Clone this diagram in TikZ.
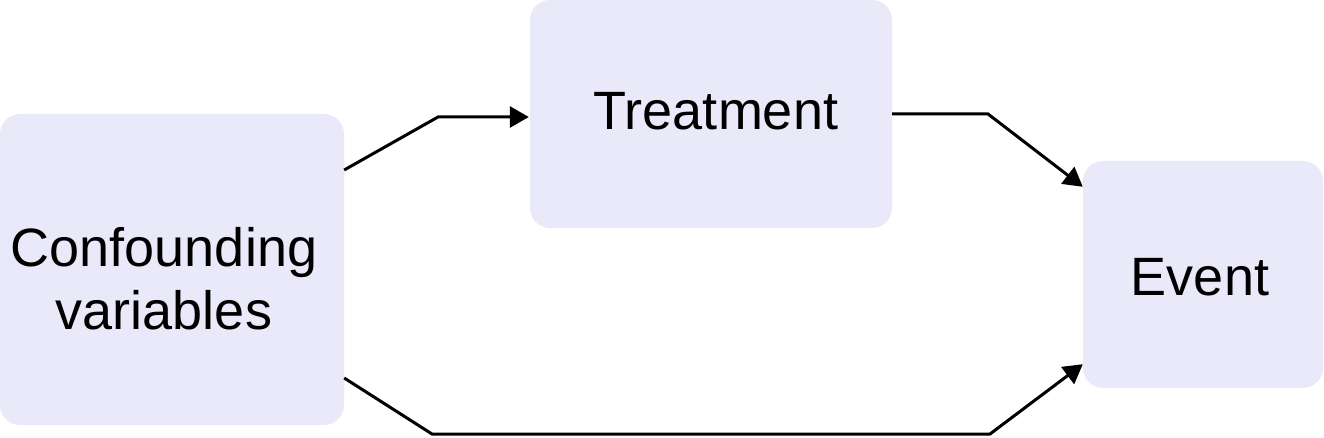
\documentclass[tikz,border=0pt]{standalone}
\usepackage{fontspec}
\setmainfont{Liberation Sans}
\usetikzlibrary{arrows.meta}
\definecolor{boxfill}{RGB}{233,233,250}
\tikzset{
  box/.style={rectangle, rounded corners=20pt, fill=boxfill, draw=none, inner sep=0pt},
  label/.style={align=center, inner sep=0pt, font=\fontsize{54}{63}\selectfont},
  link/.style={line width=3pt, -{Triangle[length=19pt,width=21pt]}, line join=miter}
}
\begin{document}
\begin{tikzpicture}[x=1pt,y=1pt]
\useasboundingbox (0,0) rectangle (1324,437);
\node[box, minimum width=344pt, minimum height=311pt] (conf) at (172,167.5) {};
\node[box, minimum width=362pt, minimum height=228pt] (treat) at (711,323) {};
\node[box, minimum width=240pt, minimum height=227pt] (event) at (1203,162.5) {};
\node[label] (conft) at (164,157.9) {Confounding\\variables};
\node[label, anchor=base] (treatt) at (716,307) {Treatment};
\node[label, anchor=base] (eventt) at (1200,142) {Event};
\coordinate (b1) at (438,320);
\coordinate (b2) at (988,323);
\coordinate (b3) at (432,3);
\coordinate (b4) at (990,3);
\draw[link] ([yshift=99.5pt]conf.east) -- (b1) -- ([yshift=-3pt,xshift=-1pt]treat.west);
\draw[link] (treat.east) -- (b2) -- ([yshift=-26pt]event.north west);
\draw[link] ([yshift=-108.5pt]conf.east) -- (b3) -- (b4) -- ([yshift=24pt]event.south west);
\end{tikzpicture}
\end{document}
